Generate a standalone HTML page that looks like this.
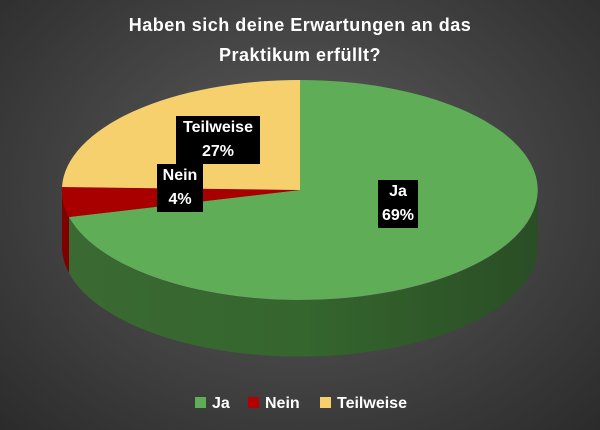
<!DOCTYPE html>
<html><head><meta charset="utf-8"><style>
html,body{margin:0;padding:0;}
body{width:600px;height:430px;overflow:hidden;background:radial-gradient(ellipse at 50% 45%,#5e5e5e 0%,#474747 45%,#2b2b2b 100%);font-family:"Liberation Sans",sans-serif;position:relative;}
.t{position:absolute;left:0;width:600px;top:10px;text-align:center;color:#fff;font-weight:bold;font-size:18px;line-height:30px;letter-spacing:0.5px;}
.lb{position:absolute;background:#000;color:#fff;font-weight:bold;font-size:16px;text-align:center;line-height:24px;}
.lg{position:absolute;top:394px;color:#fff;font-weight:bold;font-size:16px;line-height:20px;}
.sq{display:inline-block;width:11px;height:11px;margin-right:6px;vertical-align:0px;}
</style></head><body>
<div class="t">Haben sich deine Erwartungen an das<br>Praktikum erfüllt?</div>
<svg width="600" height="430" style="position:absolute;left:0;top:0">
<defs>
<linearGradient id="gs" x1="0" x2="1" y1="0" y2="0"><stop offset="0" stop-color="#3a6a32"/><stop offset="0.5" stop-color="#35662e"/><stop offset="1" stop-color="#2a4d25"/></linearGradient>
</defs>
<path d="M538,190 A238,110 0 0 1 69,217 L69,273 A238,110 0 0 0 538,246 Z" fill="url(#gs)"/>
<path d="M69,217 A238,110 0 0 1 62,190 L62,246 A238,110 0 0 0 69,273 Z" fill="#800000"/>
<path d="M300,190 L300,80 A238,110 0 1 1 69,217 Z" fill="#5fad56"/>
<path d="M300,190 L69,217 A238,110 0 0 1 62,187 Z" fill="#a80000"/>
<path d="M300,190 L62,187 A238,110 0 0 1 300,80 Z" fill="#f6d06d"/>
</svg>
<div class="lb" style="left:176px;top:116px;width:84px;">Teilweise<br>27%</div>
<div class="lb" style="left:157px;top:164px;width:46px;">Nein<br>4%</div>
<div class="lb" style="left:378px;top:180px;width:40px;">Ja<br>69%</div>
<div class="lg" style="left:195px"><span class="sq" style="background:#5fad56"></span>Ja</div>
<div class="lg" style="left:248px"><span class="sq" style="background:#b40000"></span>Nein</div>
<div class="lg" style="left:320px"><span class="sq" style="background:#f6d06d"></span>Teilweise</div>
</body></html>
